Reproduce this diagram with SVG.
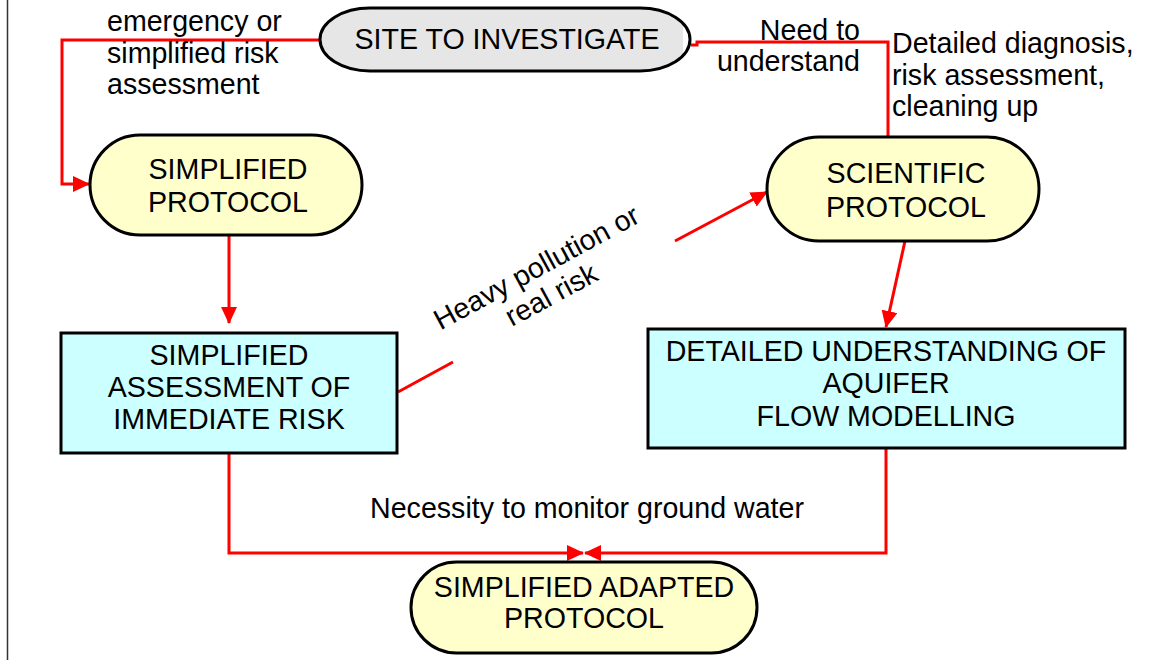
<svg xmlns="http://www.w3.org/2000/svg" width="1153" height="660" viewBox="0 0 1153 660">
<defs>
<style>
text{font-family:"Liberation Sans",Arial,sans-serif;font-size:28.6px;fill:#000}
.c{text-anchor:middle}
.e{text-anchor:end}
.conn{fill:none;stroke:#ff0000;stroke-width:3}
.pill{fill:#ffffcc;stroke:#000;stroke-width:3}
.box{fill:#ccffff;stroke:#000;stroke-width:3}
</style>
<marker id="ah" markerUnits="userSpaceOnUse" markerWidth="17" markerHeight="16" refX="16" refY="8" orient="auto">
<path d="M0,0 L17,8 L0,16 z" fill="#ff0000"/>
</marker>
</defs>
<rect width="1153" height="660" fill="#fff"/>
<line x1="7.5" y1="0" x2="7.5" y2="660" stroke="#333" stroke-width="1.5"/>
<g id="connectors">
<path class="conn" d="M320,40 H62 V184 H89" marker-end="url(#ah)"/>
<path class="conn" d="M690,45 H697 V42 H888 V137"/>
<path class="conn" d="M229,235 V323" marker-end="url(#ah)"/>
<path class="conn" d="M398,392 L453,362 M675,241 L767,192" marker-end="url(#ah)"/>
<path class="conn" d="M905,241 L886,327" marker-end="url(#ah)"/>
<path class="conn" d="M229,453 V553 H583" marker-end="url(#ah)"/>
<path class="conn" d="M886,448 V553 H585" marker-end="url(#ah)"/>
</g>
<g id="labels">
<text x="107" y="31">emergency or</text>
<text x="107" y="62.5">simplified risk</text>
<text x="107" y="94">assessment</text>
<text class="e" x="860" y="40">Need to</text>
<text class="e" x="860" y="71">understand</text>
<text x="892" y="53">Detailed diagnosis,</text>
<text x="892" y="84.5">risk assessment,</text>
<text x="892" y="116">cleaning up</text>
<g transform="translate(541,276) rotate(-28.5)">
<text class="c" x="0" y="0">Heavy pollution or</text>
<text class="c" x="0" y="31">real risk</text>
</g>
<text class="c" x="587" y="518">Necessity to monitor ground water</text>
</g>
<g id="site">
<rect x="320" y="8" width="370" height="63" rx="50" ry="31.5" fill="#e6e6e6"/>
<rect x="683" y="17" width="8" height="44" fill="#fff"/>
<rect x="320" y="8" width="370" height="63" rx="50" ry="31.5" fill="none" stroke="#000" stroke-width="3"/>
<text class="c" x="507" y="49">SITE TO INVESTIGATE</text>
</g>
<g id="simplified-protocol">
<rect class="pill" x="90" y="135" width="272" height="100" rx="50" ry="50"/>
<text class="c" x="228" y="179">SIMPLIFIED</text>
<text class="c" x="228" y="212">PROTOCOL</text>
</g>
<g id="scientific-protocol">
<rect class="pill" x="767" y="137" width="272" height="104" rx="52" ry="52"/>
<text class="c" x="906" y="183">SCIENTIFIC</text>
<text class="c" x="906" y="217">PROTOCOL</text>
</g>
<g id="simplified-assessment">
<rect class="box" x="61" y="333" width="336" height="120"/>
<text class="c" x="229" y="365">SIMPLIFIED</text>
<text class="c" x="229" y="397">ASSESSMENT OF</text>
<text class="c" x="229" y="429">IMMEDIATE RISK</text>
</g>
<g id="detailed-understanding">
<rect class="box" x="648" y="329" width="477" height="119"/>
<text class="c" x="886" y="361">DETAILED UNDERSTANDING OF</text>
<text class="c" x="886" y="393">AQUIFER</text>
<text class="c" x="886" y="426">FLOW MODELLING</text>
</g>
<g id="simplified-adapted-protocol">
<rect class="pill" x="411" y="562" width="346" height="91" rx="45.5" ry="45.5"/>
<text class="c" x="584" y="597">SIMPLIFIED ADAPTED</text>
<text class="c" x="584" y="628">PROTOCOL</text>
</g>
</svg>
